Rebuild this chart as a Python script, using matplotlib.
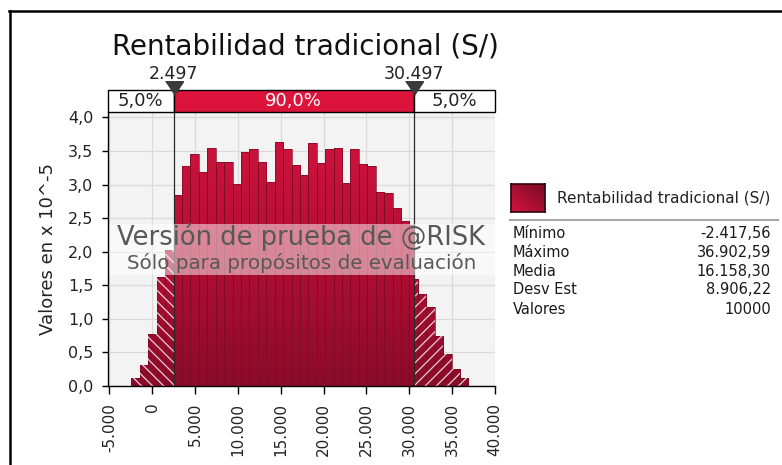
import matplotlib
matplotlib.use("Agg")
import matplotlib.pyplot as plt
import numpy as np
from matplotlib.colors import LinearSegmentedColormap
from matplotlib.patches import Rectangle
from matplotlib.lines import Line2D
import matplotlib.transforms as mtransforms

# ---------------- data ----------------
title = "Rentabilidad tradicional (S/)"
x_min = -2417.56
x_max = 36902.59
n_bins = 40
# density values (x 10^-5) per bin
heights = [0.115, 0.313, 0.775, 1.62, 2.02,
           2.85, 3.28, 3.45, 3.19, 3.55,
           3.34, 3.34, 3.01, 3.49, 3.53,
           3.34, 3.04, 3.64, 3.53, 3.29,
           3.14, 3.62, 3.32, 3.53, 3.54,
           3.03, 3.53, 3.30, 3.27, 2.89,
           2.87, 2.65, 2.45, 2.40, 1.37,
           1.17, 0.745, 0.477, 0.249, 0.115]
split_bin = 33            # bin cut by the right delimiter
split_tail_height = 1.60  # height of its hatched (tail) part
delimiters = [2497, 30497]
delimiter_labels = ["2.497", "30.497"]
band_labels = ["5,0%", "90,0%", "5,0%"]
x_ticks = [-5000, 0, 5000, 10000, 15000, 20000, 25000, 30000, 35000, 40000]
x_tick_labels = ["-5.000", "0", "5.000", "10.000", "15.000", "20.000",
                 "25.000", "30.000", "35.000", "40.000"]
y_ticks = [0.0, 0.5, 1.0, 1.5, 2.0, 2.5, 3.0, 3.5, 4.0]
y_tick_labels = ["0,0", "0,5", "1,0", "1,5", "2,0", "2,5", "3,0", "3,5", "4,0"]
y_label = "Valores en x 10^-5"
legend_label = "Rentabilidad tradicional (S/)"
stat_names = ["Mínimo", "Máximo", "Media", "Desv Est", "Valores"]
stat_values = ["-2.417,56", "36.902,59", "16.158,30", "8.906,22", "10000"]
watermark = ["Versión de prueba de @RISK", "Sólo para propósitos de evaluación"]

# ---------------- figure ----------------
W, H = 782, 465
fig = plt.figure(figsize=(W / 100, H / 100), dpi=100)
fig.patch.set_facecolor("white")

def fx(px):
    return px / W

def fy(py):
    return 1 - py / H

ax_l, ax_r, ax_t, ax_b = 108, 495, 112, 386
ax = fig.add_axes([fx(ax_l), fy(ax_b), fx(ax_r) - fx(ax_l), fy(ax_t) - fy(ax_b)])
XLIM = (-5150, 40000)
YLIM = (0, 4.08)
ax.set_facecolor("#f3f3f3")

# grid
for v in x_ticks:
    ax.axvline(v, color="#dadada", lw=0.9, zorder=0.5)
for v in y_ticks:
    ax.axhline(v, color="#dadada", lw=0.9, zorder=0.5)

# ---------------- bars ----------------
bw = (x_max - x_min) / n_bins
edges = [x_min + i * bw for i in range(n_bins + 1)]
lo_d, hi_d = delimiters
solid_l, solid_w, solid_h = [], [], []
tailL_l, tailL_w, tailL_h = [], [], []
tailR_l, tailR_w, tailR_h = [], [], []
for i in range(n_bins):
    a, b = edges[i], edges[i + 1]
    h = heights[i]
    # left tail
    if a < lo_d:
        e = min(b, lo_d)
        if e - a > 10:
            tailL_l.append(a); tailL_w.append(e - a); tailL_h.append(h)
    # middle
    s, e = max(a, lo_d), min(b, hi_d)
    if e - s > 10:
        solid_l.append(s); solid_w.append(e - s); solid_h.append(h)
    # right tail
    if b > hi_d:
        s = max(a, hi_d)
        if b - s > 10:
            hh = split_tail_height if i == split_bin else h
            tailR_l.append(s); tailR_w.append(b - s); tailR_h.append(hh)

cmap = LinearSegmentedColormap.from_list("bar", ["#8a0b2a", "#b50f34", "#d3143f"])
grad = np.linspace(0, 1, 256).reshape(-1, 1)

def draw_bars(lefts, widths, hs, hatch=None):
    bars = ax.bar(lefts, hs, width=widths, align="edge", color="#b00f33",
                  lw=0, zorder=2)
    for p, l, w in zip(bars.patches, lefts, widths):
        im = ax.imshow(grad, extent=(l, l + w, 0, YLIM[1]), origin="lower",
                       aspect="auto", cmap=cmap, zorder=2.1,
                       interpolation="bilinear")
        im.set_clip_path(p)
    ax.bar(lefts, hs, width=widths, align="edge", facecolor="none",
           edgecolor="#7e0a25", lw=0.5, zorder=3)
    if hatch:
        ax.bar(lefts, hs, width=widths, align="edge", facecolor="none",
               edgecolor=(1, 1, 1, 0.8), hatch=hatch, lw=0, zorder=3.2)

plt.rcParams["hatch.linewidth"] = 0.9
draw_bars(solid_l, solid_w, solid_h)
draw_bars(tailL_l, tailL_w, tailL_h, hatch="\\\\\\")
draw_bars(tailR_l, tailR_w, tailR_h, hatch="///")

# delimiter lines
for d in delimiters:
    ax.axvline(d, color="#2a2a2a", lw=0.9, zorder=4)

# watermark band
ax.add_patch(Rectangle((0, 1.654), 1, 2.414 - 1.654,
                       transform=mtransforms.blended_transform_factory(ax.transAxes, ax.transData),
                       facecolor="white", alpha=0.5, lw=0, zorder=5))
ax.text(0.5, 2.225, watermark[0], transform=mtransforms.blended_transform_factory(ax.transAxes, ax.transData),
        ha="center", va="center", fontsize=18.5, color="#585858", zorder=6)
ax.text(0.5, 1.833, watermark[1], transform=mtransforms.blended_transform_factory(ax.transAxes, ax.transData),
        ha="center", va="center", fontsize=14.3, color="#585858", zorder=6)

ax.set_xlim(*XLIM)
ax.set_ylim(*YLIM)

# axes styling
for s in ["top", "right"]:
    ax.spines[s].set_visible(False)
for s in ["left", "bottom"]:
    ax.spines[s].set_color("black")
    ax.spines[s].set_linewidth(1.0)
    ax.spines[s].set_zorder(7)
ax.set_xticks(x_ticks)
ax.set_xticklabels(x_tick_labels, rotation=90, fontsize=11, color="#222222")
ax.set_yticks(y_ticks)
ax.set_yticklabels(y_tick_labels, fontsize=11.5, color="#222222")
ax.tick_params(axis="x", length=6, width=1, pad=6, color="black")
ax.tick_params(axis="y", length=4.5, width=1, pad=6, color="black")
ax.set_ylabel(y_label, fontsize=13, color="#222222", labelpad=8)

# ---------------- percentile band ----------------
bt = mtransforms.blended_transform_factory(ax.transData, ax.transAxes)
band_y0, band_h = 1.0, 22 / (ax_b - ax_t)
sections = [(XLIM[0], lo_d, "white", "#222222"),
            (lo_d, hi_d, "#dc143c", "white"),
            (hi_d, XLIM[1], "white", "#222222")]
for (a, b, fc, tc), lab in zip(sections, band_labels):
    ax.add_patch(Rectangle((a, band_y0), b - a, band_h, transform=bt,
                           facecolor=fc, edgecolor="black", lw=1.0,
                           clip_on=False, zorder=8))
    ax.text((a + b) / 2, band_y0 + band_h / 2, lab, transform=bt, ha="center",
            va="center", fontsize=13, color=tc, clip_on=False, zorder=9)

tri = [(-1, 0.75), (1, 0.75), (0, -0.75)]
for d, lab in zip(delimiters, delimiter_labels):
    ax.plot([d], [1 + 24 / (ax_b - ax_t)], marker=tri, markersize=13,
            color="#3a3a3a", transform=bt, clip_on=False, zorder=10, lw=0)
    ax.text(d, 1 + 38 / (ax_b - ax_t), lab, transform=bt, ha="center",
            va="center", fontsize=12.5, color="#222222", clip_on=False)

# title
fig.text(fx(305), fy(55), title, ha="center", va="baseline", fontsize=20,
         color="#111111")

# frame
fig.add_artist(Line2D([fx(9), fx(782)], [fy(11), fy(11)], color="black", lw=1.8))
fig.add_artist(Line2D([fx(10), fx(10)], [fy(11), fy(465)], color="black", lw=1.8))

# ---------------- legend / stats ----------------
lax = fig.add_axes([fx(511), fy(212), fx(545) - fx(511), fy(184) - fy(212)])
gx, gy = np.meshgrid(np.linspace(0, 1, 64), np.linspace(0, 1, 64))
lgrad = (gx + (1 - gy)) / 2
lcmap = LinearSegmentedColormap.from_list("leg", ["#d3143f", "#7a0a22"])
lax.imshow(lgrad, cmap=lcmap, aspect="auto", interpolation="bilinear")
lax.set_xticks([]); lax.set_yticks([])
for s in lax.spines.values():
    s.set_color("#30000c"); s.set_linewidth(1.2)

fig.text(fx(557), fy(198), legend_label, ha="left", va="center",
         fontsize=11, color="#222222")
fig.add_artist(Line2D([fx(510), fx(778)], [fy(220), fy(220)], color="#a8a8a8", lw=1.5))
row_y = [233, 252, 271, 290, 309]
for name, val, yy in zip(stat_names, stat_values, row_y):
    fig.text(fx(513), fy(yy), name, ha="left", va="center", fontsize=10.5, color="#1a1a1a")
    fig.text(fx(771), fy(yy), val, ha="right", va="center", fontsize=10.5, color="#1a1a1a")

fig.savefig("out.png", dpi=100)
